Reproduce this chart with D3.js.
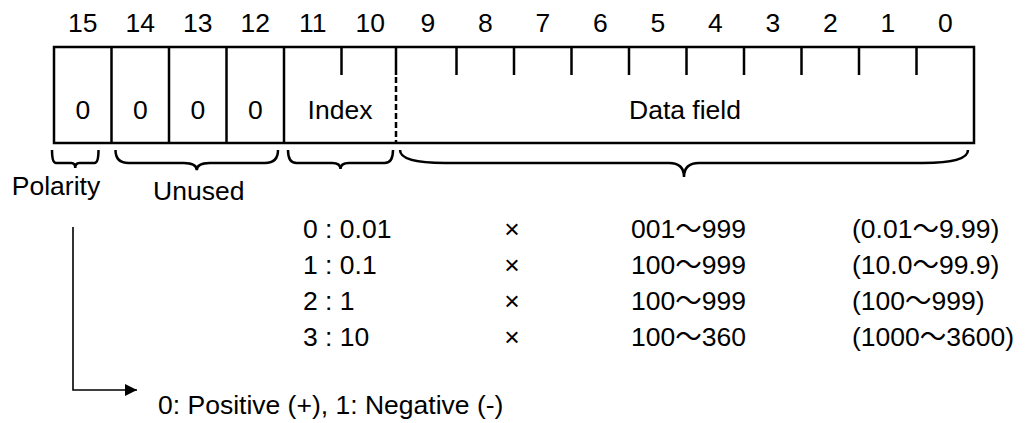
<!DOCTYPE html>
<html>
<head>
<meta charset="utf-8">
<script src="https://cdn.jsdelivr.net/npm/d3@7"></script>
<style>
  html, body { margin: 0; padding: 0; background: #fff; }
  svg text { font-family: "Liberation Sans", Arial, "Noto Sans CJK JP", sans-serif; fill: #000; }
</style>
</head>
<body>
<svg id="chart" width="1027" height="423"></svg>
<script>
// ---- data ----
const bits = [15, 14, 13, 12, 11, 10, 9, 8, 7, 6, 5, 4, 3, 2, 1, 0];
const fixedBits = [15, 14, 13, 12];
const fixedValues = ["0", "0", "0", "0"];
const fullSeparators = [14, 13, 12, 11];      // bit whose left edge is a full-height line
const shortTicks = [10, 8, 7, 6, 5, 4, 3, 2, 1, 0];
const dashedSeparator = 9;
const fieldNames = ["Index", "Data field"];
const fieldRanges = [[11, 10], [9, 0]];
const braceNames = ["Polarity", "Unused", "", ""];
const braceRanges = [[15, 15], [14, 12], [11, 10], [9, 0]];
const indexCodes = ["0 : 0.01", "1 : 0.1", "2 : 1", "3 : 10"];
const multSymbols = ["×", "×", "×", "×"];
const dataRanges = ["001～999", "100～999", "100～999", "100～360"];
const resultRanges = ["(0.01～9.99)", "(10.0～99.9)", "(100～999)", "(1000～3600)"];
const polarityNote = "0: Positive (+), 1: Negative (-)";

// ---- layout ----
const svg = d3.select("#chart");
const fs = 26.5;
const sw = 2.5;
const x = d3.scaleBand().domain(bits).range([54, 974]);
const boxTop = 47, boxBot = 143, tickBot = 75;
const left = b => x(b);
const right = b => x(b) + x.bandwidth();
const cx = b => x(b) + x.bandwidth() / 2;

// bit numbers
svg.append("g").selectAll("text").data(bits).join("text")
  .attr("x", d => cx(d)).attr("y", 31.5)
  .attr("text-anchor", "middle").attr("font-size", fs)
  .text(d => d);

// box
const g = svg.append("g").attr("stroke", "#000").attr("stroke-width", sw).attr("fill", "none");
g.append("rect").attr("x", left(15)).attr("y", boxTop)
  .attr("width", right(0) - left(15)).attr("height", boxBot - boxTop);
g.selectAll("line.full").data(fullSeparators).join("line")
  .attr("x1", d => left(d)).attr("x2", d => left(d))
  .attr("y1", boxTop).attr("y2", boxBot);
g.selectAll("line.tick").data(shortTicks).join("line")
  .attr("x1", d => left(d)).attr("x2", d => left(d))
  .attr("y1", boxTop).attr("y2", tickBot);
const dx = left(dashedSeparator) - 3;
g.append("line").attr("x1", dx).attr("x2", dx).attr("y1", boxTop).attr("y2", tickBot);
g.append("line").attr("x1", dx).attr("x2", dx).attr("y1", tickBot + 2).attr("y2", boxBot)
  .attr("stroke-dasharray", "6,3");

// values in box
svg.append("g").selectAll("text").data(fixedBits).join("text")
  .attr("x", d => cx(d)).attr("y", 119)
  .attr("text-anchor", "middle").attr("font-size", fs)
  .text((d, i) => fixedValues[i]);
svg.append("g").selectAll("text").data(fieldNames).join("text")
  .attr("x", (d, i) => {
    const a = i === 1 ? dx : left(fieldRanges[i][0]);
    const b = i === 0 ? dx : right(fieldRanges[i][1]);
    return (a + b) / 2;
  })
  .attr("y", 119).attr("text-anchor", "middle").attr("font-size", fs)
  .text(d => d);

// braces
function bracePath(x0, x1, top, mid, tip) {
  const w = x1 - x0;
  const xc = (x0 + x1) / 2;
  const re = Math.min(45, Math.max(4, w * 0.08));
  const rt = Math.min(15, Math.max(4, w * 0.08));
  return `M${x0},${top} Q${x0},${mid} ${x0 + re},${mid} L${xc - rt},${mid} Q${xc},${mid} ${xc},${tip} ` +
         `Q${xc},${mid} ${xc + rt},${mid} L${x1 - re},${mid} Q${x1},${mid} ${x1},${top}`;
}
const bg = svg.append("g").attr("stroke", "#000").attr("stroke-width", sw).attr("fill", "none");
bg.selectAll("path").data(braceRanges).join("path")
  .attr("d", (r, i) => {
    const x0 = (i === 3 ? dx : left(r[0])) + (i === 0 ? -2 : 4);
    const x1 = right(r[1]) - (i === 0 ? 13 : 6);
    const w = x1 - x0;
    return bracePath(x0, x1, 150, 163, 163 + Math.min(14, 4 + w / 50));
  });
svg.append("g").selectAll("text").data(braceRanges).join("text")
  .filter((r, i) => braceNames[i] !== "")
  .attr("x", (r, i) => i === 0 ? 56 : (left(r[0]) + right(r[1])) / 2 + 1)
  .attr("y", (r, i) => i === 0 ? 195 : 200)
  .attr("text-anchor", "middle").attr("font-size", fs)
  .text(r => braceNames[braceRanges.indexOf(r)]);

// index table
const rowY = d3.scalePoint().domain(d3.range(indexCodes.length)).range([238, 346]);
const table = svg.append("g").attr("font-size", fs);
const cols = [
  { vals: indexCodes, x: 303, anchor: "start" },
  { vals: multSymbols, x: 512, anchor: "middle" },
  { vals: dataRanges, x: 631, anchor: "start" },
  { vals: resultRanges, x: 852, anchor: "start" }
];
cols.forEach(c => {
  table.append("g").selectAll("text").data(c.vals).join("text")
    .attr("x", c.x).attr("y", (d, i) => rowY(i))
    .attr("text-anchor", c.anchor).text(d => d);
});

// polarity arrow
const ax = 73;
svg.append("defs").append("marker").attr("id", "ah")
  .attr("viewBox", "0 0 10 10").attr("refX", 10).attr("refY", 5)
  .attr("markerWidth", 14).attr("markerHeight", 12).attr("markerUnits", "userSpaceOnUse")
  .attr("orient", "auto")
  .append("path").attr("d", "M0,0 L10,5 L0,10 Z").attr("fill", "#000");
svg.append("path").attr("d", `M${ax},227 L${ax},390 L137,390`)
  .attr("fill", "none").attr("stroke", "#000").attr("stroke-width", 1.6)
  .attr("marker-end", "url(#ah)");
svg.append("text").attr("x", 158).attr("y", 414).attr("font-size", fs).text(polarityNote);
</script>
</body>
</html>
